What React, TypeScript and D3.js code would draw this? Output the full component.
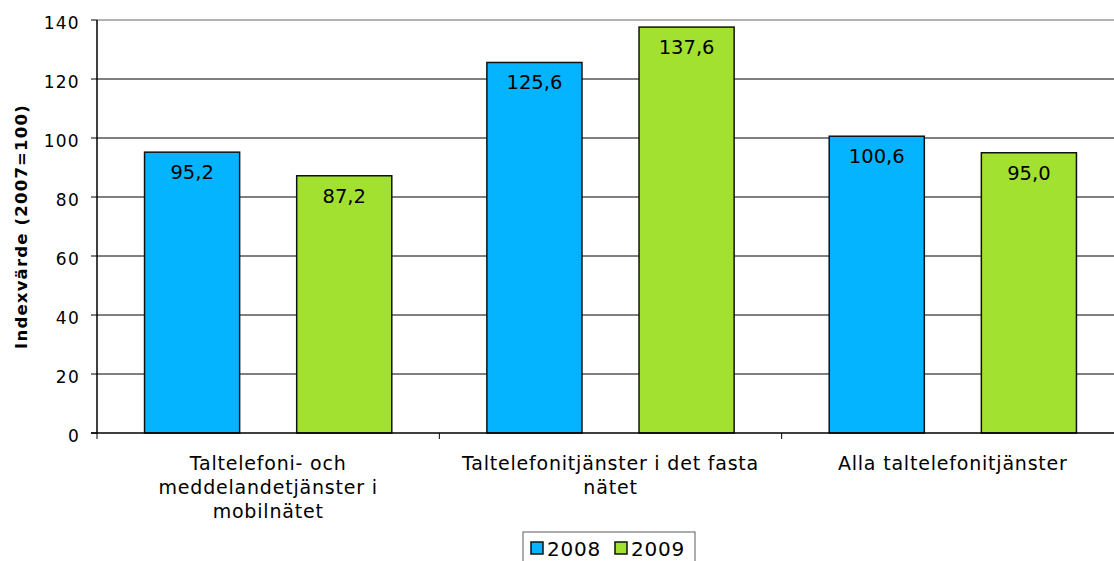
import * as d3 from 'd3';

const categories = [
  'Taltelefoni- och meddelandetjänster i mobilnätet',
  'Taltelefonitjänster i det fasta nätet',
  'Alla taltelefonitjänster',
];
// manual line breaks as in the original chart
const categoryLines = [
  ['Taltelefoni- och', 'meddelandetjänster i', 'mobilnätet'],
  ['Taltelefonitjänster i det fasta', 'nätet'],
  ['Alla taltelefonitjänster'],
];
const seriesNames = ['2008', '2009'];
const values2008 = [95.2, 125.6, 100.6];
const values2009 = [87.2, 137.6, 95.0];
const yTicks = [0, 20, 40, 60, 80, 100, 120, 140];

const colors = ['#05B4FF', '#A3E130'];
const FONT = '"DejaVu Sans", Verdana, sans-serif';

const W = 1114;
const H = 561;
const plot = { left: 97, top: 20, right: 1124, bottom: 433 };

export default function App() {
  const x = d3.scaleBand<string>().domain(categories).range([plot.left, plot.right]);
  const xs = d3
    .scaleBand<string>()
    .domain(seriesNames)
    .range([0, x.bandwidth()])
    .paddingInner(0.375)
    .paddingOuter(0.3125);
  const y = d3.scaleLinear().domain([0, 140]).range([plot.bottom, plot.top]);

  const series = [values2008, values2009];
  const fmt = (v: number) => v.toFixed(1).replace('.', ',');

  // category boundary ticks
  const boundaries = categories.map((c) => x(c)!).concat([plot.right]);

  // legend layout
  const legend = { x: 523, y: 532, w: 172, h: 34 };
  const legendItems = [
    { sx: 531, tx: 547 },
    { sx: 615, tx: 631 },
  ];

  return (
    <svg
      width={W}
      height={H}
      style={{ position: 'absolute', left: 0, top: 0, background: '#fff' }}
      fontFamily={FONT}
    >
      {/* top border */}
      <line x1={plot.left} x2={W} y1={y(140)} y2={y(140)} stroke="#999" strokeWidth={1.5} />
      {/* gridlines */}
      {yTicks
        .filter((t) => t !== 0 && t !== 140)
        .map((t) => (
          <line key={t} x1={plot.left} x2={W} y1={y(t)} y2={y(t)} stroke="#000" strokeWidth={1} />
        ))}

      {/* bars */}
      {categories.map((c, ci) =>
        seriesNames.map((s, si) => {
          const v = series[si][ci];
          const bx = x(c)! + xs(s)!;
          const bw = xs.bandwidth();
          return (
            <g key={c + s}>
              <rect
                x={bx}
                y={y(v)}
                width={bw}
                height={y(0) - y(v)}
                fill={colors[si]}
                stroke="#111"
                strokeWidth={1.5}
              />
              <text
                x={bx + bw / 2}
                y={y(v) + 27}
                textAnchor="middle"
                fontSize={19.5}
                fill="#000"
              >
                {fmt(v)}
              </text>
            </g>
          );
        })
      )}

      {/* y axis */}
      <line x1={plot.left} x2={plot.left} y1={plot.top} y2={plot.bottom} stroke="#000" strokeWidth={1.5} />
      {yTicks.map((t) => (
        <g key={t}>
          <line x1={plot.left - 6} x2={plot.left} y1={y(t)} y2={y(t)} stroke="#000" strokeWidth={1} />
          <text
            x={80}
            y={y(t) + 9}
            textAnchor="end"
            fontSize={17}
            letterSpacing={1.3}
            fill="#000"
          >
            {t}
          </text>
        </g>
      ))}

      {/* x axis */}
      <line x1={plot.left - 6} x2={W} y1={plot.bottom} y2={plot.bottom} stroke="#000" strokeWidth={1.5} />
      {boundaries.map((b, i) => (
        <line key={i} x1={b} x2={b} y1={plot.bottom} y2={plot.bottom + 6} stroke="#000" strokeWidth={1} />
      ))}
      {categories.map((c, ci) => (
        <text
          key={c}
          x={x(c)! + x.bandwidth() / 2}
          y={470}
          textAnchor="middle"
          fontSize={19}
          letterSpacing={0.8}
          fill="#000"
        >
          {categoryLines[ci].map((line, li) => (
            <tspan key={li} x={x(c)! + x.bandwidth() / 2} dy={li === 0 ? 0 : 24}>
              {line}
            </tspan>
          ))}
        </text>
      ))}

      {/* y axis title */}
      <text
        transform={`translate(27,${(plot.top + plot.bottom) / 2}) rotate(-90)`}
        textAnchor="middle"
        fontSize={16.5}
        fontWeight="bold"
        letterSpacing={1.2}
        fill="#000"
      >
        Indexvärde (2007=100)
      </text>

      {/* legend */}
      <rect x={legend.x} y={legend.y} width={legend.w} height={legend.h} fill="#fff" stroke="#777" strokeWidth={1.2} />
      {seriesNames.map((s, i) => (
        <g key={s}>
          <rect x={legendItems[i].sx} y={542} width={12} height={12} fill={colors[i]} stroke="#111" strokeWidth={1.5} />
          <text x={legendItems[i].tx} y={556} fontSize={20} letterSpacing={0.8} fill="#000">
            {s}
          </text>
        </g>
      ))}
    </svg>
  );
}
